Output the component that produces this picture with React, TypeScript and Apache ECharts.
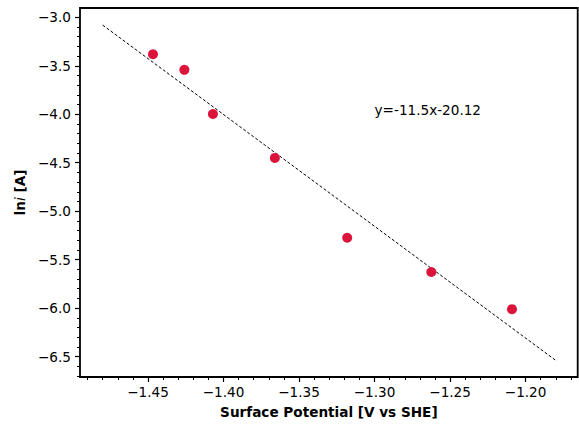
import React, { useEffect, useRef } from "react";
import * as echarts from "echarts";

const potential = [-1.4467, -1.4259, -1.407, -1.366, -1.3181, -1.2624, -1.209];
const lnCurrent = [-3.381, -3.542, -3.998, -4.451, -5.274, -5.628, -6.011];
const fitX = [-1.48, -1.18];
const fitY = [-3.08, -6.54];
const xTicks = [-1.45, -1.4, -1.35, -1.3, -1.25, -1.2];
const yTicks = [-3.0, -3.5, -4.0, -4.5, -5.0, -5.5, -6.0, -6.5];
const fitLabel = "y=-11.5x-20.12";
const fitLabelPos = [-1.3, -4.0];

const X_MIN = -1.495;
const X_MAX = -1.1655;
const Y_MIN = -6.711;
const Y_MAX = -2.904;

const FONT = "DejaVu Sans";
const FS = 13.6;

function minorTicks(lo: number, hi: number, step: number): number[] {
  const out: number[] = [];
  const start = Math.ceil(lo / step - 1e-9);
  const end = Math.floor(hi / step + 1e-9);
  for (let k = start; k <= end; k++) out.push(Number((k * step).toFixed(4)));
  return out;
}

const fmt = (d: number) => (v: number) => {
  const s = Math.abs(v).toFixed(d);
  return (v < 0 ? "\u2212" : "") + s;
};

export default function App() {
  const ref = useRef<HTMLDivElement>(null);
  useEffect(() => {
    if (!ref.current) return;
    const chart = echarts.init(ref.current, null, { renderer: "svg" });
    const xMinor = minorTicks(X_MIN, X_MAX, 0.01);
    const yMinor = minorTicks(Y_MIN, Y_MAX, 0.1);
    const tickLine = { color: "#000", width: 1.2 };
    chart.setOption({
      animation: false,
      grid: {
        left: 80,
        top: 8,
        right: 1.3,
        bottom: 46,
        show: true,
        borderColor: "#000",
        borderWidth: 1.8,
        backgroundColor: "transparent",
      },
      xAxis: [
        {
          type: "value",
          min: X_MIN,
          max: X_MAX,
          position: "bottom",
          axisLine: { show: false },
          splitLine: { show: false },
          axisTick: { show: true, inside: false, length: 5, lineStyle: tickLine, customValues: xTicks },
          axisLabel: {
            show: true,
            customValues: xTicks,
            formatter: fmt(2),
            margin: 8,
            fontSize: FS,
            color: "#000",
            fontFamily: FONT,
          },
          name: "Surface Potential [V vs SHE]",
          nameLocation: "middle",
          nameGap: 28,
          nameTextStyle: { fontSize: FS, fontWeight: "bold", color: "#000", fontFamily: FONT },
        },
        {
          type: "value",
          min: X_MIN,
          max: X_MAX,
          position: "bottom",
          axisLine: { show: false },
          splitLine: { show: false },
          axisTick: { show: true, inside: false, length: 3, lineStyle: { color: "#000", width: 1 }, customValues: xMinor },
          axisLabel: { show: false },
        },
      ],
      yAxis: [
        {
          type: "value",
          min: Y_MIN,
          max: Y_MAX,
          position: "left",
          axisLine: { show: false },
          splitLine: { show: false },
          axisTick: { show: true, inside: false, length: 5, lineStyle: tickLine, customValues: yTicks },
          axisLabel: {
            show: true,
            customValues: yTicks,
            formatter: fmt(1),
            margin: 9,
            fontSize: FS,
            color: "#000",
            fontFamily: FONT,
          },
          name: "{b|ln}{i|i}{b| [A]}",
          nameLocation: "middle",
          nameGap: 48,
          nameRotate: 90,
          nameTextStyle: {
            color: "#000",
            fontFamily: FONT,
            rich: {
              b: { fontSize: FS, fontWeight: "bold", fontFamily: FONT, color: "#000" },
              i: { fontSize: FS, fontStyle: "italic", fontFamily: FONT, color: "#000" },
            },
          },
        },
        {
          type: "value",
          min: Y_MIN,
          max: Y_MAX,
          position: "left",
          axisLine: { show: false },
          splitLine: { show: false },
          axisTick: { show: true, inside: false, length: 3, lineStyle: { color: "#000", width: 1 }, customValues: yMinor },
          axisLabel: { show: false },
        },
      ],
      series: [
        {
          type: "line",
          xAxisIndex: 0,
          yAxisIndex: 0,
          data: fitX.map((x, i) => [x, fitY[i]]),
          showSymbol: false,
          symbol: "none",
          lineStyle: { color: "#000", width: 1, type: [3, 2] },
          z: 2,
        },
        {
          type: "scatter",
          xAxisIndex: 0,
          yAxisIndex: 0,
          data: potential.map((x, i) => [x, lnCurrent[i]]),
          symbol: "circle",
          symbolSize: 10,
          itemStyle: { color: "#DC143C", opacity: 1 },
          z: 3,
        },
      ],
    });
    const p = chart.convertToPixel({ xAxisIndex: 0, yAxisIndex: 0 }, fitLabelPos) as number[];
    chart.setOption({
      graphic: [
        {
          type: "text",
          x: p[0],
          y: p[1] - 4,
          style: {
            text: fitLabel,
            fontSize: FS,
            fontFamily: FONT,
            fill: "#000",
            align: "left",
            verticalAlign: "middle",
          },
        },
      ],
    });
    return () => chart.dispose();
  }, []);
  return (
    <div
      ref={ref}
      style={{ position: "fixed", left: 0, top: 0, width: 579, height: 424, background: "#fff" }}
    />
  );
}
